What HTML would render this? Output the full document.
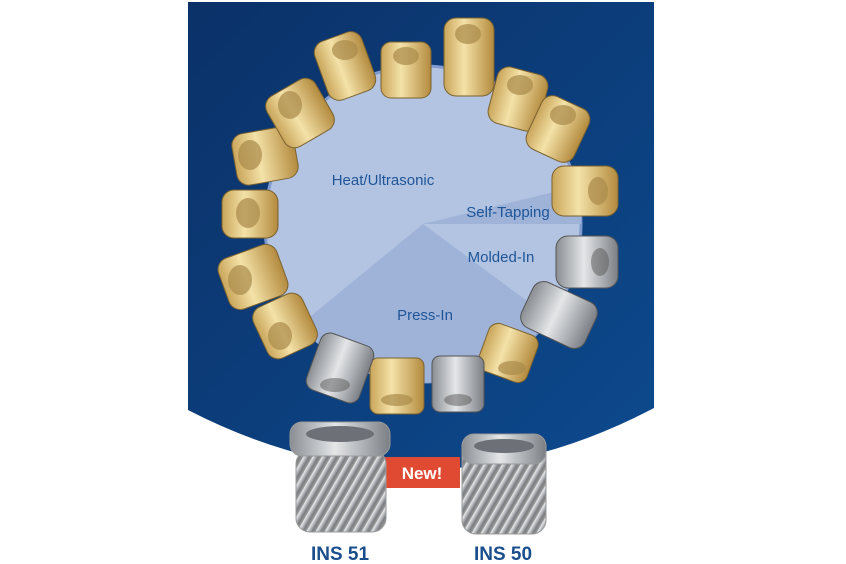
<!DOCTYPE html>
<html><head><style>
html,body{margin:0;padding:0;background:#fff;}
svg{display:block;font-family:"Liberation Sans",sans-serif;}
</style></head><body>
<svg width="846" height="564" viewBox="0 0 846 564">
<defs>
<linearGradient id="bg" x1="0" y1="0" x2="1" y2="1">
<stop offset="0" stop-color="#0b3168"/><stop offset="1" stop-color="#0d4a8e"/></linearGradient>
<linearGradient id="gold" x1="0" y1="0" x2="1" y2="0">
<stop offset="0" stop-color="#c9a55a"/><stop offset="0.4" stop-color="#f4e2a8"/><stop offset="1" stop-color="#b38a3e"/></linearGradient>
<linearGradient id="silv" x1="0" y1="0" x2="1" y2="0">
<stop offset="0" stop-color="#8a8e93"/><stop offset="0.45" stop-color="#e4e6e8"/><stop offset="1" stop-color="#7b7f85"/></linearGradient>
<pattern id="knurl" width="8" height="8" patternUnits="userSpaceOnUse" patternTransform="rotate(30)">
<rect width="8" height="8" fill="url(#silv)"/><rect width="3" height="8" fill="#666" opacity="0.5"/></pattern>
</defs>
<path d="M188,2 H654 V408 Q421,530 188,410 Z" fill="url(#bg)"/>
<circle cx="423" cy="224" r="158" fill="#b3c4e2" stroke="#7f9bcf" stroke-width="3"/>
<path d="M423,224 L578,186 A158,158 0 0 1 581,224 Z" fill="#9fb3d9"/>
<path d="M423,224 L300,325 A158,158 0 0 0 550,318 Z" fill="#9fb3d9"/>
<g fill="#1f5597" font-size="15">
<text x="383" y="185" text-anchor="middle">Heat/Ultrasonic</text>
<text x="508" y="217" text-anchor="middle">Self-Tapping</text>
<text x="501" y="262" text-anchor="middle">Molded-In</text>
<text x="425" y="320" text-anchor="middle">Press-In</text>
</g>
<g stroke="#7a6230" stroke-width="1">
<g fill="url(#gold)">
<rect x="320" y="35" width="50" height="62" rx="12" transform="rotate(-20 345 66)"/>
<rect x="381" y="42" width="50" height="56" rx="10"/>
<rect x="444" y="18" width="50" height="78" rx="12"/>
<rect x="492" y="70" width="52" height="58" rx="12" transform="rotate(15 518 99)"/>
<rect x="532" y="100" width="52" height="58" rx="12" transform="rotate(25 558 129)"/>
<rect x="552" y="166" width="66" height="50" rx="12"/>
<rect x="482" y="328" width="52" height="50" rx="10" transform="rotate(20 508 353)"/>
<rect x="370" y="358" width="54" height="56" rx="8"/>
<rect x="258" y="298" width="54" height="56" rx="12" transform="rotate(-25 285 326)"/>
<rect x="222" y="250" width="62" height="54" rx="12" transform="rotate(-20 253 277)"/>
<rect x="222" y="190" width="56" height="48" rx="12"/>
<rect x="234" y="130" width="62" height="52" rx="12" transform="rotate(-10 265 156)"/>
<rect x="272" y="84" width="56" height="58" rx="12" transform="rotate(-30 300 113)"/>
</g>
<g fill="url(#silv)" stroke="#555">
<rect x="556" y="236" width="62" height="52" rx="12"/>
<rect x="524" y="290" width="70" height="50" rx="12" transform="rotate(25 559 315)"/>
<rect x="432" y="356" width="52" height="56" rx="8"/>
<rect x="312" y="338" width="56" height="60" rx="10" transform="rotate(20 340 368)"/>
</g>
</g>
<g fill="#a98a4a" opacity="0.7">
<ellipse cx="345" cy="50" rx="13" ry="10"/><ellipse cx="406" cy="56" rx="13" ry="9"/>
<ellipse cx="468" cy="34" rx="13" ry="10"/><ellipse cx="520" cy="85" rx="13" ry="10"/>
<ellipse cx="563" cy="115" rx="13" ry="10"/><ellipse cx="248" cy="213" rx="12" ry="15"/>
<ellipse cx="240" cy="280" rx="12" ry="15"/><ellipse cx="280" cy="336" rx="12" ry="14"/>
<ellipse cx="250" cy="155" rx="12" ry="15"/><ellipse cx="290" cy="105" rx="12" ry="14"/>
<ellipse cx="598" cy="191" rx="10" ry="14"/><ellipse cx="397" cy="400" rx="16" ry="6"/>
<ellipse cx="512" cy="368" rx="14" ry="7"/>
</g>
<g fill="#555" opacity="0.5">
<ellipse cx="458" cy="400" rx="14" ry="6"/><ellipse cx="335" cy="385" rx="15" ry="7"/>
<ellipse cx="600" cy="262" rx="9" ry="14"/>
</g>
<rect x="384" y="457" width="76" height="31" fill="#e04a32"/>
<text x="422" y="479" text-anchor="middle" fill="#fff" font-size="17" font-weight="bold">New!</text>
<rect x="296" y="450" width="90" height="82" rx="14" fill="url(#knurl)" stroke="#999"/>
<rect x="290" y="422" width="100" height="34" rx="12" fill="url(#silv)" stroke="#999"/>
<ellipse cx="340" cy="434" rx="34" ry="8" fill="#6d7177"/>
<rect x="462" y="436" width="84" height="98" rx="14" fill="url(#knurl)" stroke="#999"/>
<rect x="462" y="434" width="84" height="30" rx="12" fill="url(#silv)" stroke="#999"/>
<ellipse cx="504" cy="446" rx="30" ry="7" fill="#6d7177"/>
<g fill="#1a4e8c" font-size="19" font-weight="bold">
<text x="340" y="560" text-anchor="middle">INS 51</text>
<text x="503" y="560" text-anchor="middle">INS 50</text>
</g>
</svg>
</body></html>
